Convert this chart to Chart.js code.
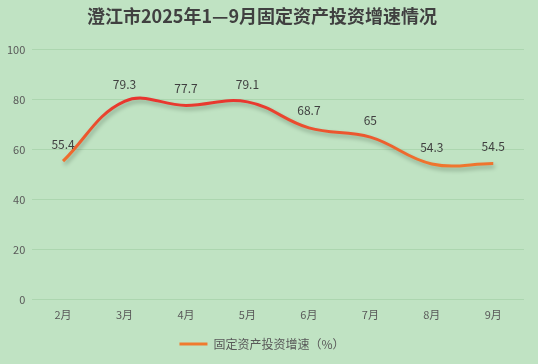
<!DOCTYPE html>
<html>
<head>
<meta charset="utf-8">
<script src="https://cdn.jsdelivr.net/npm/chart.js@4/dist/chart.umd.min.js"></script>
<style>
  html, body { margin: 0; padding: 0; background: #C0E3C3; }
  #wrap { width: 538px; height: 364px; }
</style>
</head>
<body>
<div id="wrap"><canvas id="c" width="538" height="364"></canvas></div>
<script>
const months = ['2月', '3月', '4月', '5月', '6月', '7月', '8月', '9月'];
const growth = [55.4, 79.3, 77.7, 79.1, 68.7, 65, 54.3, 54.5];
const yTicks = [0, 20, 40, 60, 80, 100];
const seriesName = '固定资产投资增速（%）';
const titleText = '澄江市2025年1—9月固定资产投资增速情况';

const RED = '#E8352F';
const ORANGE = '#F07A2E';

function lineGradient(ctx) {
  const chart = ctx.chart;
  const area = chart.chartArea;
  if (!area) return RED;
  const y = chart.scales.y;
  const g = chart.ctx.createLinearGradient(0, y.getPixelForValue(80), 0, y.getPixelForValue(52));
  g.addColorStop(0, RED);
  g.addColorStop(1, ORANGE);
  return g;
}

const shadowPlugin = {
  id: 'shadow',
  beforeDatasetDraw(chart) {
    const c = chart.ctx;
    c.save();
    c.shadowColor = 'rgba(40,60,40,0.35)';
    c.shadowBlur = 4;
    c.shadowOffsetX = 1.5;
    c.shadowOffsetY = 3;
  },
  afterDatasetDraw(chart) {
    chart.ctx.restore();
  }
};

const labelPlugin = {
  id: 'valueLabels',
  afterDatasetsDraw(chart) {
    const c = chart.ctx;
    const meta = chart.getDatasetMeta(0);
    c.save();
    c.font = '12px "Noto Sans CJK SC", "Noto Sans", sans-serif';
    c.fillStyle = '#404040';
    c.textAlign = 'center';
    c.textBaseline = 'middle';
    meta.data.forEach((pt, i) => {
      c.fillText(String(growth[i]), pt.x, pt.y - 17);
    });
    c.restore();
  }
};

const bg = {
  id: 'bg',
  beforeDraw(chart) {
    const c = chart.ctx;
    c.save();
    c.fillStyle = '#C0E3C3';
    c.fillRect(0, 0, chart.width, chart.height);
    c.restore();
  }
};

new Chart(document.getElementById('c'), {
  type: 'line',
  data: {
    labels: months,
    datasets: [{
      label: seriesName,
      data: growth,
      borderColor: lineGradient,
      backgroundColor: lineGradient,
      borderWidth: 3,
      tension: 0.4,
      pointRadius: 0,
      fill: false
    }]
  },
  options: {
    responsive: false,
    animation: false,
    layout: { padding: { left: 0, right: 14, top: 0, bottom: 4 } },
    scales: {
      x: {
        offset: true,
        grid: { display: false },
        border: { display: false },
        afterFit(axis) { axis.height += 3; },
        ticks: { color: '#595959', font: { size: 11, family: '"Noto Sans CJK SC", sans-serif' }, padding: 0 }
      },
      y: {
        min: 0,
        max: 100,
        afterBuildTicks(axis) { axis.ticks = yTicks.map(v => ({ value: v })); },
        grid: { color: '#ACD6AF', lineWidth: 1, drawTicks: false },
        border: { display: false },
        ticks: { color: '#595959', font: { size: 11, family: '"Noto Sans CJK SC", sans-serif' }, padding: 7 }
      }
    },
    plugins: {
      title: {
        display: true,
        text: titleText,
        color: '#404040',
        font: { size: 18, weight: 'bold', family: '"Noto Sans CJK SC", serif' },
        padding: { top: 5, bottom: 23 }
      },
      legend: {
        position: 'bottom',
        labels: {
          color: '#595959',
          font: { size: 12, family: '"Noto Sans CJK SC", sans-serif' },
          boxWidth: 28,
          boxHeight: 3,
          padding: 14,
          generateLabels(chart) {
            return [{
              text: seriesName,
              fillStyle: ORANGE,
              strokeStyle: ORANGE,
              lineWidth: 0,
              datasetIndex: 0,
              fontColor: '#595959'
            }];
          }
        }
      },
      tooltip: { enabled: false }
    }
  },
  plugins: [bg, shadowPlugin, labelPlugin]
});
</script>
</body>
</html>
